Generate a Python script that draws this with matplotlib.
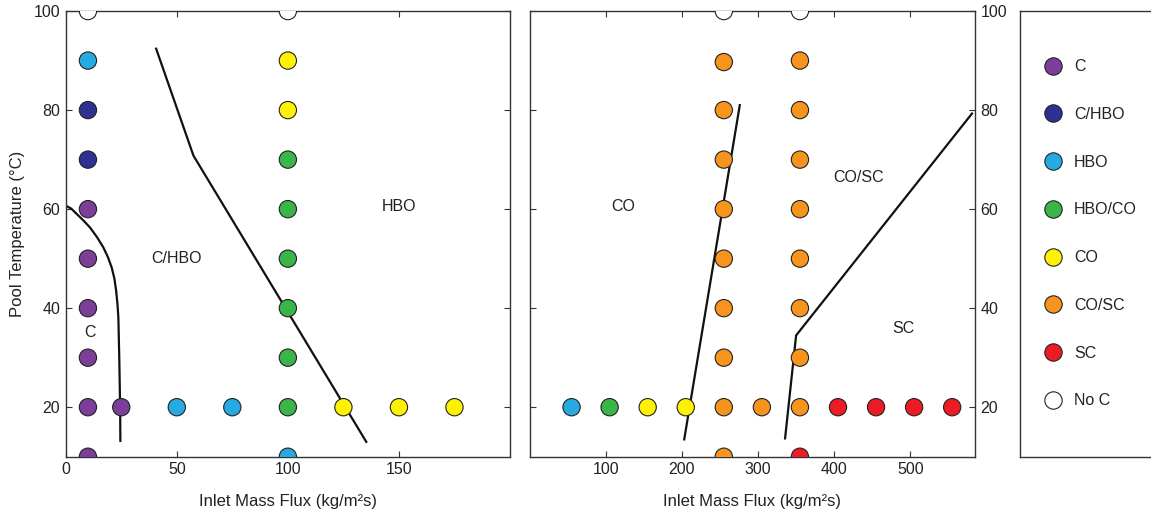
import numpy as np
import matplotlib
matplotlib.use("Agg")
import matplotlib.pyplot as plt
from matplotlib.lines import Line2D

plt.rcParams['font.family'] = ['Liberation Sans', 'DejaVu Sans']

# regime names and colours
regimes = ["C", "C/HBO", "HBO", "HBO/CO", "CO", "CO/SC", "SC", "No C"]
colors = ["#7B3F99", "#2E3192", "#27AAE1", "#39B54A", "#FFF200", "#F7941D", "#ED1C24", "#FFFFFF"]

# left panel data (mass flux, pool temperature, regime)
left_flux = [10, 10, 10, 10, 10, 10, 10, 10, 10, 10,
             25, 50, 75,
             100, 100, 100, 100, 100, 100, 100, 100, 100, 100,
             125, 150, 175]
left_temp = [100, 90, 80, 70, 60, 50, 40, 30, 20, 10,
             20, 20, 20,
             100, 90, 80, 70, 60, 50, 40, 30, 20, 10,
             20, 20, 20]
left_regime = ["No C", "HBO", "C/HBO", "C/HBO", "C", "C", "C", "C", "C", "C",
               "C", "HBO", "HBO",
               "No C", "CO", "CO", "HBO/CO", "HBO/CO", "HBO/CO", "HBO/CO", "HBO/CO", "HBO/CO", "HBO",
               "CO", "CO", "CO"]

# right panel data
right_flux = [55, 105, 155, 205, 255, 305, 355, 405, 455, 505, 555,
              255, 255, 255, 255, 255, 255, 255, 255, 255,
              355, 355, 355, 355, 355, 355, 355, 355, 355]
right_temp = [20, 20, 20, 20, 20, 20, 20, 20, 20, 20, 20,
              100, 89.7, 80, 70, 60, 50, 40, 30, 10,
              100, 90, 80, 70, 60, 50, 40, 30, 10]
right_regime = ["HBO", "HBO/CO", "CO", "CO", "CO/SC", "CO/SC", "CO/SC", "SC", "SC", "SC", "SC",
                "No C", "CO/SC", "CO/SC", "CO/SC", "CO/SC", "CO/SC", "CO/SC", "CO/SC", "CO/SC",
                "No C", "CO/SC", "CO/SC", "CO/SC", "CO/SC", "CO/SC", "CO/SC", "CO/SC", "SC"]

# regime boundaries
c_bound_x = [0, 2.5, 5, 8, 10.9, 14, 16.9, 19, 20.7, 21.9, 22.7, 23.3, 23.7, 24.1, 24.5, 24.6]
c_bound_y = [60.7, 60.1, 59.0, 57.7, 56.3, 54.4, 52.3, 50.3, 48.2, 46.0, 43.5, 40.8, 38.1, 30.0, 19.9, 13.2]
hbo_bound_x = [40.7, 57.5, 135.3]
hbo_bound_y = [92.4, 70.8, 13]
co_bound_x = [203, 276]
co_bound_y = [13.5, 81]
sc_bound_x = [335.5, 350, 581]
sc_bound_y = [13.7, 34.5, 79.3]

# region labels
left_labels = [("C", 10.8, 35), ("C/HBO", 50, 50), ("HBO", 150, 60.5)]
right_labels = [("CO", 123, 60.5), ("CO/SC", 432, 66.4), ("SC", 491, 35.8)]

cmap = dict(zip(regimes, colors))
edge = "#222222"
msize = 155
fs = 11.5

fig = plt.figure(figsize=(11.51, 5.17), dpi=100)
ax1 = fig.add_axes([0.0571, 0.1166, 0.386, 0.862])
ax2 = fig.add_axes([0.4602, 0.1166, 0.3869, 0.862])
ax3 = fig.add_axes([0.8862, 0.1166, 0.13, 0.862])

for ax in (ax1, ax2):
    for s in ax.spines.values():
        s.set_color("#333333")
        s.set_linewidth(1.0)
    ax.tick_params(direction="in", length=4, width=0.8, colors="#333333",
                   labelcolor="#222222", labelsize=fs, pad=4,
                   top=True, right=True, left=True, bottom=True)

ax1.scatter(left_flux, left_temp, c=[cmap[r] for r in left_regime], s=msize,
            edgecolors=edge, linewidths=0.8, zorder=3)
ax1.plot(c_bound_x, c_bound_y, color="#111111", lw=1.6, zorder=2)
ax1.plot(hbo_bound_x, hbo_bound_y, color="#111111", lw=1.6, zorder=2)
for t, x, y in left_labels:
    ax1.text(x, y, t, ha="center", va="center", fontsize=fs, color="#222222")
ax1.set_xlim(0, 200)
ax1.set_ylim(10, 100)
ax1.set_xticks([0, 50, 100, 150])
ax1.set_yticks([20, 40, 60, 80, 100])
ax1.set_xlabel("Inlet Mass Flux (kg/m\u00b2s)", fontsize=12, color="#222222", labelpad=12)
ax1.set_ylabel("Pool Temperature (\u00b0C)", fontsize=12, color="#222222", labelpad=6)

ax2.scatter(right_flux, right_temp, c=[cmap[r] for r in right_regime], s=msize,
            edgecolors=edge, linewidths=0.8, zorder=3)
ax2.plot(co_bound_x, co_bound_y, color="#111111", lw=1.6, zorder=2)
ax2.plot(sc_bound_x, sc_bound_y, color="#111111", lw=1.6, zorder=2)
for t, x, y in right_labels:
    ax2.text(x, y, t, ha="center", va="center", fontsize=fs, color="#222222")
ax2.set_xlim(0, 585)
ax2.set_ylim(10, 100)
ax2.set_xticks([100, 200, 300, 400, 500])
ax2.set_yticks([20, 40, 60, 80, 100])
ax2.yaxis.tick_right()
ax2.tick_params(axis="y", left=True, right=True, labelleft=False, labelright=True)
ax2.set_xlabel("Inlet Mass Flux (kg/m\u00b2s)", fontsize=12, color="#222222", labelpad=12)

# legend box
ax3.set_xticks([])
ax3.set_yticks([])
for s in ax3.spines.values():
    s.set_color("#333333")
    s.set_linewidth(1.0)
handles = [Line2D([], [], ls="none", marker="o", markersize=12.5, markerfacecolor=c,
                  markeredgecolor=edge, markeredgewidth=0.8) for c in colors]
ax3.legend(handles, regimes, loc="upper left", bbox_to_anchor=(0.17, 0.892),
           frameon=False, fontsize=fs, handlelength=1.0, handletextpad=0.8,
           labelspacing=2.05, borderpad=0, borderaxespad=0, labelcolor="#222222")

fig.savefig("out.png", dpi=100)
